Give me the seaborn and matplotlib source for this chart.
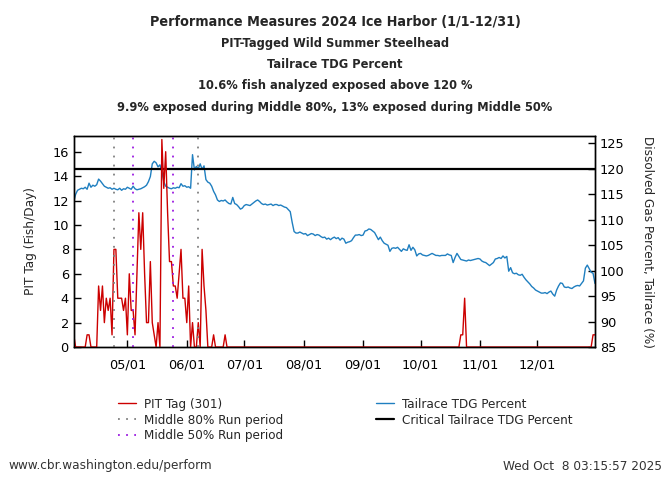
import numpy as np
import pandas as pd
import matplotlib
matplotlib.use("Agg")
import matplotlib.pyplot as plt
import matplotlib.dates as mdates
from matplotlib.lines import Line2D
import seaborn as sns

# daily values, 2024-04-03 .. 2024-12-31
start_date = "2024-04-03"
pit_tag = [
    1, 0, 0, 0, 0, 0, 0, 1, 1, 0,
    0, 0, 0, 5, 3, 5, 2, 4, 3, 4,
    1, 8, 8, 4, 4, 4, 3, 4, 1, 6,
    3, 3, 1, 6, 11, 8, 11, 6, 2, 2,
    7, 2, 1, 0, 2, 0, 17, 13, 16, 11,
    7, 7, 5, 5, 4, 6, 8, 4, 4, 2,
    5, 0, 2, 0, 0, 2, 0, 8, 5, 3,
    0, 0, 0, 1, 0, 0, 0, 0, 0, 1,
] + [0] * 122 + [
    1, 1, 4, 0,
] + [0] * 65 + [1, 1]

tdg = [
    113.5, 115.0, 115.8, 116.0, 116.2, 116.1, 116.4, 116.0, 117.2, 116.4,
    116.8, 116.6, 116.9, 118.0, 117.6, 117.1, 116.6, 116.4, 116.2, 116.3,
    116.0, 116.2, 116.0, 115.9, 116.2, 115.8, 116.1, 116.0, 116.4, 116.2,
    116.0, 116.6, 116.1, 115.9, 116.0, 116.1, 116.3, 116.5, 116.8, 117.5,
    118.5, 121.0, 121.5, 121.2, 120.4, 120.8, 119.5, 117.5, 116.6, 116.4,
    116.2, 116.1, 116.3, 116.2, 116.4, 116.3, 117.1, 116.6, 116.7, 116.4,
    116.5, 116.2, 122.8, 119.8, 120.5, 120.0, 121.0, 119.9, 120.6, 117.9,
    117.4, 117.2, 116.6, 115.6, 114.9, 113.9, 113.6, 113.8, 113.7, 113.9,
    113.5, 113.2, 113.1, 114.4, 113.2, 113.0, 112.6, 112.1, 112.3, 112.8,
    113.0, 112.9, 112.8, 113.1, 113.4, 113.7, 113.9, 113.6, 113.2, 113.0,
    113.1, 112.9, 113.0, 113.1, 112.8, 113.0, 113.0, 112.8, 112.9, 112.7,
    112.5, 112.4, 112.0, 111.6, 109.5, 107.7, 107.4, 107.4, 107.6, 107.4,
    107.2, 107.3, 106.9, 107.1, 107.3, 107.2, 106.9, 107.1, 107.0, 106.7,
    106.5, 106.6, 106.2, 106.4, 106.1, 106.4, 106.6, 106.3, 106.5, 106.0,
    106.4, 106.2, 105.4, 105.6, 105.7, 105.9, 106.5, 107.0, 107.0, 107.1,
    106.9, 107.0, 107.8, 107.9, 108.2, 108.1, 107.8, 107.5, 106.8, 106.1,
    106.6, 105.9, 105.4, 105.2, 105.0, 103.8, 104.4, 104.5, 104.4, 104.6,
    104.2, 103.8, 104.3, 104.1, 104.0, 105.1, 104.0, 104.6, 104.1, 102.9,
    103.3, 103.4, 103.1, 103.0, 102.9, 103.0, 103.2, 103.4, 103.2, 103.0,
    103.0, 102.9, 103.0, 103.0, 103.0, 103.3, 103.1, 103.0, 101.6, 102.6,
    103.4, 102.8, 102.2, 102.1, 102.0, 101.9, 102.1, 102.0, 102.1, 102.2,
    102.3, 102.4, 102.3, 101.9, 101.7, 101.6, 101.3, 101.0, 101.3, 101.6,
    102.3, 102.4, 102.6, 102.4, 102.9, 102.5, 102.8, 99.9, 100.6, 99.6,
    99.4, 99.5, 99.2, 99.1, 99.3, 98.7, 98.2, 97.8, 97.4, 96.9,
    96.6, 96.2, 96.0, 95.8, 95.6, 95.6, 95.7, 95.5, 95.8, 96.0,
    95.4, 95.0, 96.2, 97.0, 97.6, 97.5, 96.8, 96.7, 96.8, 96.6,
    96.5, 96.8, 97.0, 97.1, 97.0, 97.5, 98.0, 100.5, 101.1, 100.4,
    99.7, 99.5, 97.5,
]

critical_tdg = 120
mid80 = ["2024-04-24", "2024-06-07"]
mid50 = ["2024-05-04", "2024-05-25"]

titles = [
    "Performance Measures 2024 Ice Harbor (1/1-12/31)",
    "PIT-Tagged Wild Summer Steelhead",
    "Tailrace TDG Percent",
    "10.6% fish analyzed exposed above 120 %",
    "9.9% exposed during Middle 80%, 13% exposed during Middle 50%",
]

dates = pd.date_range(start_date, periods=len(tdg), freq="D")
df = pd.DataFrame({"date": dates, "pit": pit_tag, "tdg": tdg})

sns.set_style("ticks")
plt.rcParams["font.family"] = ["DejaVu Sans"]

fig = plt.figure(figsize=(6.7, 4.8), dpi=100)
ax = fig.add_axes([0.110, 0.277, 0.778, 0.440])
ax2 = ax.twinx()

red = "#cc0000"
blue = "#1f7fc0"
gray = "#808080"
purple = "#9b19e0"

sns.lineplot(data=df, x="date", y="tdg", ax=ax2, color=blue, lw=1.0)
ax2.axhline(critical_tdg, color="black", lw=1.6)

sns.lineplot(data=df, x="date", y="pit", ax=ax, color=red, lw=1.0)
for d in mid80:
    ax.axvline(pd.Timestamp(d), color=gray, lw=1.3, ls=(0, (1, 4)))
for d in mid50:
    ax.axvline(pd.Timestamp(d), color=purple, lw=1.3, ls=(0, (1, 4)))

ax.set_zorder(ax2.get_zorder() + 1)
ax.patch.set_visible(False)

ax.set_xlim(pd.Timestamp("2024-04-03"), pd.Timestamp("2024-12-31"))
ax.set_ylim(0, 17.3)
ax2.set_ylim(85, 126.5)
ax.set_yticks(np.arange(0, 17, 2))
ax2.set_yticks(np.arange(85, 126, 5))
ax.xaxis.set_major_locator(mdates.MonthLocator(bymonth=range(5, 13)))
ax.xaxis.set_major_formatter(mdates.DateFormatter("%m/%d"))

for a in (ax, ax2):
    a.tick_params(direction="in", length=5, width=1, labelsize=9.3, colors="black")
    for s in a.spines.values():
        s.set_color("black")
        s.set_linewidth(1)
ax.tick_params(axis="x", pad=8)

ax.set_xlabel("")
ax.set_ylabel("PIT Tag (Fish/Day)", fontsize=9.7, fontstretch="condensed",
              labelpad=11)
ax2.set_ylabel("Dissolved Gas Percent, Tailrace (%)", fontsize=9.6,
               fontstretch="condensed", rotation=-90, labelpad=21)

title_sizes = [10.3, 9.2, 9.2, 9.2, 9.2]
for i, t in enumerate(titles):
    fig.text(0.5, 1 - (22 + i * 21.3) / 480, t, ha="center", va="center",
             fontsize=title_sizes[i], fontweight="bold",
             fontstretch="condensed")

leg_font = {"size": 9.6, "stretch": "condensed", "family": "DejaVu Sans"}
left_handles = [
    Line2D([], [], color=red, lw=1),
    Line2D([], [], color=gray, lw=1.3, ls=(0, (1, 3.5))),
    Line2D([], [], color=purple, lw=1.3, ls=(0, (1, 3.5))),
]
left_labels = ["PIT Tag (301)", "Middle 80% Run period", "Middle 50% Run period"]
right_handles = [
    Line2D([], [], color=blue, lw=1),
    Line2D([], [], color="black", lw=1.6),
]
right_labels = ["Tailrace TDG Percent", "Critical Tailrace TDG Percent"]

for hs, ls_, x0 in [(left_handles, left_labels, 118), (right_handles, right_labels, 376)]:
    leg = fig.legend(hs, ls_, loc="upper left",
                     bbox_to_anchor=(x0 / 670, 1 - 398 / 480), frameon=False,
                     prop=leg_font, handlelength=1.35, handletextpad=0.6,
                     labelspacing=0.2, borderpad=0, borderaxespad=0)

fig.text(8 / 670, 1 - 466 / 480, "www.cbr.washington.edu/perform",
         ha="left", va="center", fontsize=8.7, color="#333333")
fig.text(662 / 670, 1 - 466 / 480, "Wed Oct  8 03:15:57 2025",
         ha="right", va="center", fontsize=8.7, color="#333333")

fig.savefig("out.png", dpi=100)
